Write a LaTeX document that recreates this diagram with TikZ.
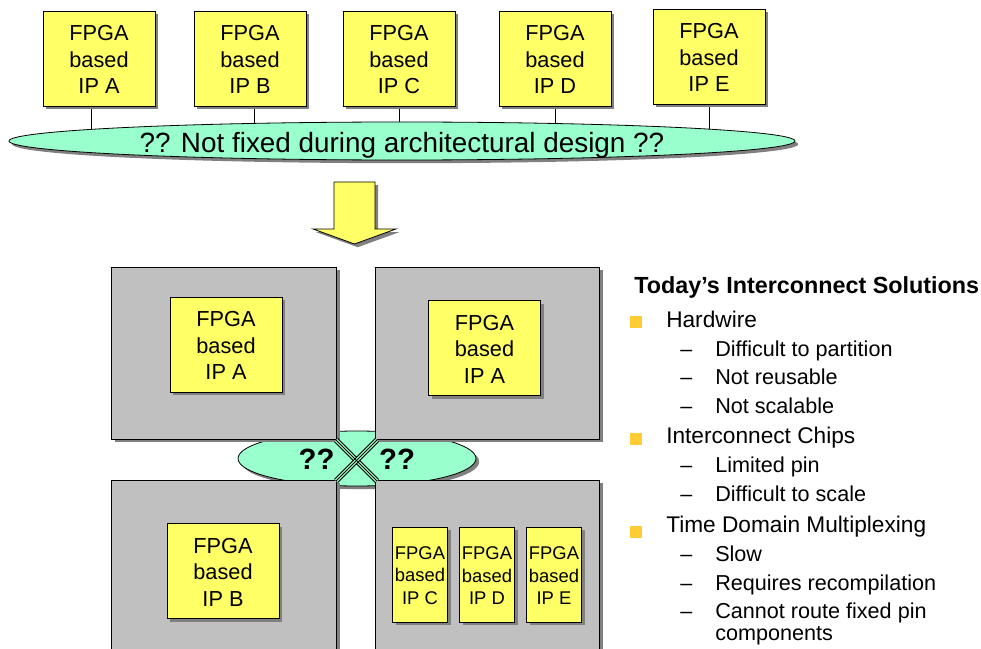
\documentclass[tikz,border=0pt]{standalone}
\usepackage{fontspec}
\setmainfont{Liberation Sans}
\usetikzlibrary{shadows,backgrounds,shapes.geometric}
\definecolor{ipyellow}{HTML}{FFFF66}
\definecolor{busgreen}{HTML}{99FFCC}
\definecolor{panelgrey}{HTML}{C0C0C0}
\definecolor{shadowgrey}{HTML}{808080}
\definecolor{bulletgold}{HTML}{FFCC33}
\newcommand{\tpad}{\rule{0pt}{0.82em}}
\tikzset{
  solidshadow/.style={general shadow={shadow xshift=2.4pt,shadow yshift=-2.4pt,fill=shadowgrey}},
  ipbox/.style={draw=black,line width=0.6pt,fill=ipyellow,solidshadow,minimum width=84pt,minimum height=71.25pt,inner sep=0pt,align=center,font=\fontsize{16.3pt}{19.9pt}\selectfont},
  smallbox/.style={draw=black,line width=0.6pt,fill=ipyellow,solidshadow,minimum width=41.5pt,minimum height=71.25pt,inner sep=0pt,align=center,font=\fontsize{13.8pt}{16.6pt}\selectfont},
  panel/.style={draw=black,line width=0.6pt,fill=panelgrey,solidshadow,minimum width=168.5pt,inner sep=0pt},
  busoval/.style={ellipse,draw=black,line width=0.6pt,fill=busgreen,solidshadow,inner sep=0pt},
  stub/.style={draw=black,line width=0.5pt},
  crossline/.style={draw=black,line width=0.9pt,double=busgreen,double distance=2.4pt},
  crosscore/.style={draw=black,line width=0.6pt},
  heading/.style={anchor=base west,inner sep=0pt,font=\fontsize{17.5pt}{20pt}\bfseries\selectfont},
  levelone/.style={anchor=base west,inner sep=0pt,font=\fontsize{17pt}{20pt}\selectfont},
  leveltwo/.style={anchor=base west,inner sep=0pt,font=\fontsize{16.2pt}{19pt}\selectfont},
  dashmark/.style={anchor=base west,inner sep=0pt,font=\fontsize{16.1pt}{19pt}\selectfont},
  bullet/.style={fill=bulletgold,draw=none,minimum size=9pt,inner sep=0pt},
}
\begin{document}
\begin{tikzpicture}[x=0.75pt,y=-0.75pt]
\useasboundingbox (0,0) rectangle (981,649);
\clip (0,0) rectangle (981,649);
% top row
\node[ipbox] (a) at (99,58.5) {\tpad FPGA\\based\\IP A};
\node[ipbox] (b) at (250,58.5) {\tpad FPGA\\based\\IP B};
\node[ipbox] (c) at (399,58.5) {\tpad FPGA\\based\\IP C};
\node[ipbox] (d) at (555,58.5) {\tpad FPGA\\based\\IP D};
\node[ipbox] (e) at (709,56.5) {\tpad FPGA\\based\\IP E};
\node[busoval,minimum width=589.5pt,minimum height=28.5pt] (bus) at (402,141) {};
\node[inner sep=0pt,font=\fontsize{20.9pt}{24pt}\selectfont] (bustext) at (402,145) {?? Not fixed during architectural design ??};
\begin{scope}[on background layer]
\draw[stub] ([xshift=-6pt]a.south) -- ([xshift=-6pt]a.south |- bus.center);
\draw[stub] ([xshift=3pt]b.south) -- ([xshift=3pt]b.south |- bus.center);
\draw[stub] (c.south) -- (c.south |- bus.center);
\draw[stub] (d.south) -- (d.south |- bus.center);
\draw[stub] (e.south) -- (e.south |- bus.center);
\end{scope}
% arrow
\draw[draw=black,line width=0.6pt,fill=ipyellow,solidshadow] (334,182) -- (375,182) -- (375,229) -- (396,229) -- (354.5,244) -- (313,229) -- (334,229) -- cycle;
% interconnect oval below panels
\node[busoval,minimum width=178.5pt,minimum height=41.25pt] (hub) at (357,458.5) {};
% panels
\node[panel,minimum height=129pt] (p1) at (224,353) {};
\node[panel,minimum height=129pt] (p2) at (487.5,353) {};
\node[panel,minimum height=135pt] (p3) at (224,570) {};
\node[panel,minimum height=135pt] (p4) at (487.5,570) {};
% crossing
\coordinate (x1) at (336,440);
\coordinate (x2) at (377,481);
\coordinate (x3) at (377,440);
\coordinate (x4) at (336,481);
\draw[crossline] (x1) -- (x2);
\draw[crossline] (x3) -- (x4);
\draw[crosscore] (x1) -- (x2);
\draw[crosscore] (x3) -- (x4);
\node[inner sep=0pt,font=\fontsize{22pt}{24pt}\bfseries\selectfont] (q1) at (316.5,459.5) {??};
\node[inner sep=0pt,font=\fontsize{22pt}{24pt}\bfseries\selectfont] (q2) at (397,459.5) {??};
% inner boxes
\node[ipbox] (ia) at (226,344.5) {\tpad FPGA\\based\\IP A};
\node[ipbox] (ia2) at (484.5,348) {\tpad FPGA\\based\\IP A};
\node[ipbox] (ib) at (223,571) {\tpad FPGA\\based\\IP B};
\node[smallbox] (ic) at (420,574.5) {\tpad FPGA\\based\\IP C};
\node[smallbox] (id) at (487,574.5) {\tpad FPGA\\based\\IP D};
\node[smallbox] (ie) at (554,574.5) {\tpad FPGA\\based\\IP E};
% text list
\node[heading] (t0) at (634,293) {Today’s Interconnect Solutions};
\node[bullet] (b1) at (636,321.5) {};
\node[levelone] (t1) at (666,327) {Hardwire};
\node[dashmark] (d11) at (680,356) {–};
\node[leveltwo] (t11) at (715,356) {Difficult to partition};
\node[dashmark] (d12) at (680,384) {–};
\node[leveltwo] (t12) at (715,384) {Not reusable};
\node[dashmark] (d13) at (680,413) {–};
\node[leveltwo] (t13) at (715,413) {Not scalable};
\node[bullet] (b2) at (636,439) {};
\node[levelone] (t2) at (666,443) {Interconnect Chips};
\node[dashmark] (d21) at (680,472) {–};
\node[leveltwo] (t21) at (715,472) {Limited pin};
\node[dashmark] (d22) at (680,501) {–};
\node[leveltwo] (t22) at (715,501) {Difficult to scale};
\node[bullet] (b3) at (636,532) {};
\node[levelone] (t3) at (666,532) {Time Domain Multiplexing};
\node[dashmark] (d31) at (680,561) {–};
\node[leveltwo] (t31) at (715,561) {Slow};
\node[dashmark] (d32) at (680,590) {–};
\node[leveltwo] (t32) at (715,590) {Requires recompilation};
\node[dashmark] (d33) at (680,618) {–};
\node[leveltwo] (t33) at (715,618) {Cannot route fixed pin};
\node[leveltwo] (t34) at (715,640) {components};
\end{tikzpicture}
\end{document}
